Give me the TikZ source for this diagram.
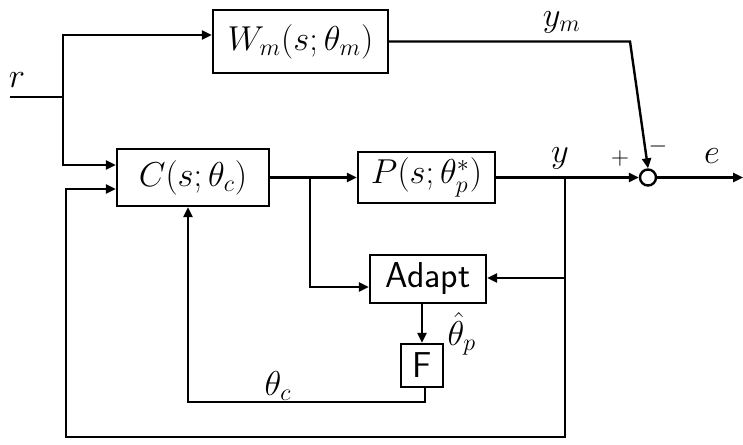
\documentclass[tikz,border=0pt]{standalone}
\usetikzlibrary{arrows.meta}
\begin{document}
\begin{tikzpicture}[x=0.5pt,y=-0.5pt,
  line width=1.2pt,
  blk/.style={draw, rectangle, inner sep=0pt, font=\fontsize{18}{20}\selectfont},
  arr/.style={-{Triangle[length=5pt,width=4.5pt]}},
  lbl/.style={font=\fontsize{18}{20}\selectfont, inner sep=1pt},
  sml/.style={font=\fontsize{13}{15}\selectfont, inner sep=1pt}]
\useasboundingbox (0,0) rectangle (743,444);
% blocks
\node[blk, minimum width=87.5pt, minimum height=31.5pt] (wm) at (300.5,41.5) {$W_m(s;\theta_m)$};
\node[blk, minimum width=76pt, minimum height=28.5pt] (c) at (193,177.5) {$C(s;\theta_c)$};
\node[blk, minimum width=68.5pt, minimum height=25.5pt] (p) at (426.5,177.5) {$P(s;\theta_p^*)$};
\node[blk, minimum width=58pt, minimum height=24pt, font=\fontsize{18}{20}\selectfont\sffamily] (ad) at (428,279) {Adapt};
\node[blk, minimum width=21pt, minimum height=21.5pt, font=\fontsize{18}{20}\selectfont\sffamily] (f) at (422,365.5) {F};
\node[draw, circle, inner sep=0pt, minimum size=8pt] (sum) at (648,177.5) {};
% coordinates
\coordinate (r0) at (10,97);
\coordinate (rs) at (63,97);
\coordinate (ra) at (63,35);
\coordinate (rb) at (63,165);
\coordinate (yb) at (565,177.5);
\coordinate (ya) at (565,278);
\coordinate (yd) at (565,437);
\coordinate (ld) at (66,437);
\coordinate (lu) at (66,189);
\coordinate (cb) at (310,177.5);
\coordinate (cd) at (310,287);
\coordinate (ym) at (630,41.5);
\coordinate (eo) at (743,177.5);
\coordinate (fb) at (425,402);
\coordinate (tb) at (188,402);
% connectors
\draw (r0) -- (rs);
\draw[arr] (rs) -- (ra) -- (ra -| wm.west);
\draw[arr] (rs) -- (rb) -- (rb -| c.west);
\draw[arr] (c.east) -- (p.west);
\draw[arr] (cb) -- (cd) -- (cd -| ad.west);
\draw[arr] (p.east) -- (sum.west);
\draw[arr] (wm.east) -- (ym) -- (sum.north);
\draw[arr] (sum.east) -- (eo);
\draw[arr] (yb) -- (yd) -- (ld) -- (lu) -- (lu -| c.west);
\draw[arr] (ya) -- (ya -| ad.east);
\draw[arr] (f.north |- ad.south) -- (f.north);
\draw[arr] (f.south -| fb) -- (fb) -- (tb) -- (tb |- c.south);
% labels
\node[lbl] (lr) at (17,80) {$r$};
\node[lbl] (lym) at (562,22) {$y_m$};
\node[lbl] (ly) at (560,158) {$y$};
\node[sml] (lp) at (620,158) {$+$};
\node[sml] (lm) at (658,146) {$-$};
\node[lbl] (le) at (712,156) {$e$};
\node[lbl] (lth) at (462,334) {$\hat\theta_p$};
\node[lbl] (ltc) at (278,386) {$\theta_c$};
\end{tikzpicture}
\end{document}
